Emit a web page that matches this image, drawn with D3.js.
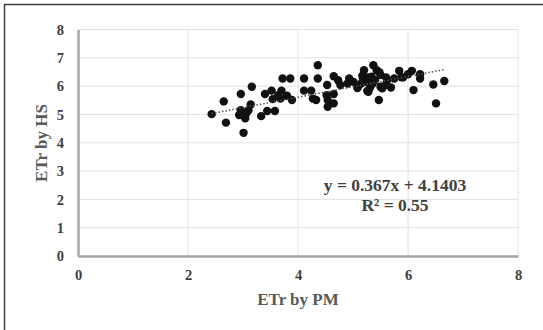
<!DOCTYPE html>
<meta charset="utf-8">
<script src="https://d3js.org/d3.v7.min.js"></script>
<style>
  body { margin: 0; background: #fff; }
  text { font-family: "Liberation Serif", "Times New Roman", serif; font-weight: bold; }
</style>
<div id="my_dataviz"></div>
<script>

// data
var pmValues = [2.43, 2.65, 2.69, 2.96, 3.01, 3.16, 2.96, 2.98, 3.04, 3.10,
                3.14, 3.06, 2.93, 3.33, 3.44, 3.58, 3.40, 3.52, 3.54, 3.70,
                3.72, 3.86, 3.68, 3.80, 3.89, 3.64, 4.11, 4.36, 4.36, 4.11,
                4.24, 4.27, 4.33, 4.53, 4.54, 4.54, 4.65, 4.65, 4.65, 4.73,
                4.77, 4.93, 4.90, 5.09, 5.20, 5.21, 5.28, 5.24, 5.34, 5.37,
                5.43, 5.50, 5.47, 5.34, 5.40, 5.53, 5.62, 5.69, 5.75, 5.84,
                5.91, 6.07, 6.10, 6.22, 6.22, 6.46, 6.51, 6.66, 5.18, 5.15,
                5.31, 5.50, 5.59, 6.00, 4.52, 5.01, 5.17, 5.29, 5.48, 5.26,
                5.08, 5.35, 5.60, 5.88];
var hsValues = [5.01, 5.46, 4.71, 5.72, 4.35, 5.98, 5.15, 4.98, 4.86, 5.15,
                5.35, 5.04, 4.98, 4.94, 5.12, 5.12, 5.72, 5.84, 5.54, 5.84,
                6.27, 6.27, 5.56, 5.66, 5.51, 5.68, 6.27, 6.74, 6.27, 5.84,
                5.84, 5.56, 5.51, 6.04, 5.51, 5.27, 5.39, 5.72, 6.35, 6.21,
                6.04, 6.27, 6.09, 5.98, 6.56, 6.33, 5.80, 6.15, 6.09, 6.74,
                6.56, 6.39, 5.51, 6.33, 6.21, 5.92, 6.21, 5.95, 6.27, 6.54,
                6.31, 6.54, 5.86, 6.42, 6.27, 6.06, 5.39, 6.18, 6.27, 6.09,
                5.95, 5.98, 6.04, 6.42, 5.68, 6.15, 6.37, 6.31, 6.49, 5.83,
                5.93, 6.07, 6.31, 6.31];

var xTicks = [0, 2, 4, 6, 8];
var yTicks = [0, 1, 2, 3, 4, 5, 6, 7, 8];
var slope = 0.367, intercept = 4.1403;
var eqLabel = "y = 0.367x + 4.1403";
var r2Label = "R² = 0.55";

var W = 543, H = 330;
var svg = d3.select("#my_dataviz").append("svg")
    .attr("width", W).attr("height", H);

// outer frame
svg.append("rect")
    .attr("x", 4.5).attr("y", 4.5)
    .attr("width", W + 10).attr("height", H + 10)
    .attr("fill", "none").attr("stroke", "#404040").attr("stroke-width", 1.5);

var x = d3.scaleLinear().domain([0, 8]).range([78, 518]);
var y = d3.scaleLinear().domain([0, 8]).range([256, 29.5]);

// grid
svg.append("g").selectAll("line").data(yTicks.slice(1)).enter().append("line")
    .attr("x1", x(0)).attr("x2", x(8))
    .attr("y1", function(d) { return y(d); }).attr("y2", function(d) { return y(d); })
    .attr("stroke", "#e2e2e2").attr("stroke-width", 1);
svg.append("g").selectAll("line").data(xTicks.slice(1)).enter().append("line")
    .attr("y1", y(0)).attr("y2", y(8))
    .attr("x1", function(d) { return x(d); }).attr("x2", function(d) { return x(d); })
    .attr("stroke", "#e2e2e2").attr("stroke-width", 1);

// axes
var xAxis = svg.append("g")
    .attr("transform", "translate(0," + y(0) + ")")
    .call(d3.axisBottom(x).tickValues(xTicks).tickSize(0).tickPadding(14));
var yAxis = svg.append("g")
    .attr("transform", "translate(" + x(0) + ",0)")
    .call(d3.axisLeft(y).tickValues(yTicks).tickSize(0).tickPadding(14));
[xAxis, yAxis].forEach(function(a) {
  a.select(".domain").attr("stroke", "#a6a6a6").attr("stroke-width", 2.5);
  a.selectAll("text").attr("font-size", 14.5).attr("fill", "#404040")
    .attr("font-family", "Liberation Serif").attr("font-weight", "bold");
});

// axis titles
svg.append("text")
    .attr("x", 298).attr("y", 305)
    .attr("text-anchor", "middle").attr("font-size", 17).attr("fill", "#595959")
    .text("ETr by PM");
svg.append("text")
    .attr("transform", "translate(47,143) rotate(-90)")
    .attr("text-anchor", "middle").attr("font-size", 17).attr("fill", "#595959")
    .text("ETr by HS");

// points
svg.append("g").selectAll("circle").data(pmValues).enter().append("circle")
    .attr("cx", function(d) { return x(d); })
    .attr("cy", function(d, i) { return y(hsValues[i]); })
    .attr("r", 4.2)
    .attr("fill", "#111");

// trend line
var ext = d3.extent(pmValues);
svg.append("line")
    .attr("x1", x(ext[0])).attr("y1", y(slope * ext[0] + intercept))
    .attr("x2", x(ext[1])).attr("y2", y(slope * ext[1] + intercept))
    .attr("stroke", "#555").attr("stroke-width", 1.5)
    .attr("stroke-dasharray", "1.5,2");

// equation
svg.append("text")
    .attr("x", 395).attr("y", 191)
    .attr("text-anchor", "middle").attr("font-size", 17.5).attr("fill", "#404040")
    .text(eqLabel);
svg.append("text")
    .attr("x", 395).attr("y", 211)
    .attr("text-anchor", "middle").attr("font-size", 17.5).attr("fill", "#404040")
    .text(r2Label);
</script>
